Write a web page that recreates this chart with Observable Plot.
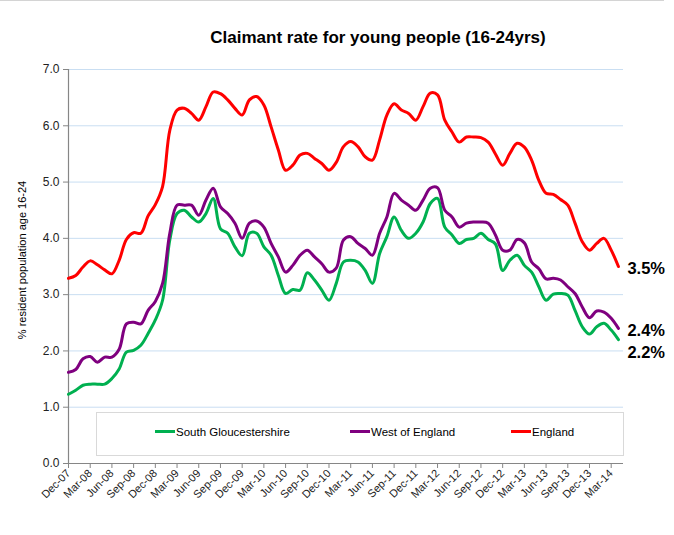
<!DOCTYPE html>
<html>
<head>
<meta charset="utf-8">
<script src="https://cdn.jsdelivr.net/npm/d3@7"></script>
<script src="https://cdn.jsdelivr.net/npm/@observablehq/plot@0.6"></script>
<style>
  html, body { margin: 0; padding: 0; background: #fff; }
  #wrap { position: relative; width: 674px; height: 535px; font-family: "Liberation Sans", Arial, sans-serif; overflow: hidden; }
  #frame { position: absolute; left: 0; top: 0; width: 664px; height: 1px; background: #d4d4d4; pointer-events: none; }
  #title { position: absolute; left: 0; width: 756px; top: 28px; text-align: center; font-weight: bold; font-size: 17px; color: #000; }
  #ylab { position: absolute; left: 22px; top: 260px; transform: translate(-50%, -50%) rotate(-90deg); white-space: nowrap; font-size: 11px; color: #000; }
  #legend { position: absolute; left: 96px; top: 412px; width: 528px; height: 44px; border: 1px solid #d9d9d9; background: #fff; box-sizing: border-box; }
  .li { position: absolute; top: 13px; font-size: 11.5px; color: #000; white-space: nowrap; }
  .sw { display: inline-block; width: 20px; height: 3px; vertical-align: middle; margin-right: 1px; position: relative; top: -1px; }
  svg { position: absolute; left: 0; top: 0; overflow: visible; }
</style>
</head>
<body>
<div id="wrap">
  <div id="chart"></div>
  <div id="title">Claimant rate for young people (16-24yrs)</div>
  <div id="ylab">% resident population age 16-24</div>
  <div id="legend"></div>
  <div id="frame"></div>
</div>
<script>
// Month index 0 = Dec-07 ... 76 = Apr-14
const tickLabels = ["Dec-07","Mar-08","Jun-08","Sep-08","Dec-08","Mar-09","Jun-09","Sep-09","Dec-09","Mar-10","Jun-10","Sep-10","Dec-10","Mar-11","Jun-11","Sep-11","Dec-11","Mar-12","Jun-12","Sep-12","Dec-12","Mar-13","Jun-13","Sep-13","Dec-13","Mar-14"];

const seriesNames = ["South Gloucestershire", "West of England", "England"];
const seriesColors = ["#00b050", "#7f007f", "#ff0000"];
const endLabels = ["2.2%", "2.4%", "3.5%"];

const southGlos = [1.23,1.30,1.39,1.41,1.41,1.41,1.51,1.68,1.98,2.01,2.10,2.31,2.55,2.90,3.97,4.44,4.50,4.38,4.29,4.44,4.71,4.17,4.09,3.85,3.69,4.09,4.09,3.85,3.70,3.34,3.02,3.09,3.08,3.39,3.26,3.08,2.90,3.20,3.58,3.61,3.58,3.43,3.20,3.73,4.03,4.38,4.14,4.00,4.09,4.29,4.62,4.71,4.20,4.06,3.91,3.98,4.00,4.09,3.98,3.90,3.43,3.61,3.70,3.52,3.40,3.14,2.90,3.01,3.02,2.99,2.72,2.43,2.30,2.43,2.49,2.37,2.20];

const westEngland = [1.62,1.67,1.86,1.90,1.80,1.89,1.89,2.03,2.48,2.51,2.48,2.72,2.88,3.20,4.09,4.59,4.59,4.59,4.41,4.68,4.89,4.56,4.44,4.27,4.00,4.27,4.31,4.20,3.91,3.67,3.40,3.52,3.70,3.79,3.67,3.55,3.40,3.47,3.97,4.03,3.91,3.82,3.70,4.09,4.38,4.80,4.68,4.59,4.50,4.68,4.89,4.90,4.50,4.38,4.20,4.27,4.29,4.29,4.27,4.06,3.79,3.79,3.98,3.92,3.58,3.46,3.28,3.29,3.26,3.14,3.02,2.78,2.59,2.71,2.69,2.58,2.40];

const england = [3.29,3.34,3.49,3.60,3.53,3.44,3.37,3.61,3.98,4.10,4.09,4.40,4.60,4.92,5.92,6.28,6.31,6.22,6.10,6.34,6.60,6.57,6.46,6.31,6.19,6.46,6.52,6.37,5.98,5.57,5.21,5.30,5.48,5.51,5.42,5.33,5.21,5.35,5.63,5.72,5.63,5.45,5.39,5.75,6.19,6.39,6.28,6.22,6.10,6.34,6.58,6.55,6.10,5.89,5.71,5.80,5.80,5.79,5.71,5.50,5.30,5.51,5.69,5.62,5.39,5.03,4.80,4.78,4.69,4.59,4.27,3.94,3.79,3.91,4.00,3.79,3.50];

const yTicks = [0,1,2,3,4,5,6,7];

const allSeries = [southGlos, westEngland, england];
const rows = [];
allSeries.forEach((vals, s) => vals.forEach((v, i) => rows.push({i, v, s: seriesNames[s]})));
const lastRows = allSeries.map((vals, s) => ({i: vals.length - 1, v: vals[vals.length - 1], s: seriesNames[s], label: endLabels[s]}));
const xTicks = tickLabels.map((_, k) => k * 3);

const plot = Plot.plot({
  width: 674,
  height: 535,
  marginLeft: 68,
  marginRight: 51,
  marginTop: 69,
  marginBottom: 72,
  style: {fontFamily: "Liberation Sans, Arial, sans-serif", background: "transparent", overflow: "visible"},
  x: {type: "linear", domain: [0, 76.7]},
  y: {domain: [0, 7]},
  color: {domain: seriesNames, range: seriesColors},
  marks: [
    Plot.gridY(yTicks.filter(d => d > 0), {stroke: "#c9def2", strokeOpacity: 1, strokeWidth: 1}),
    Plot.axisY(yTicks, {tickFormat: d => d.toFixed(1), tickSize: 5, tickPadding: 4, fontSize: 12, stroke: "#868686", fill: "#222", label: null}),
    Plot.axisX(xTicks, {tickFormat: i => tickLabels[i / 3], tickRotate: -45, tickSize: 5, tickPadding: 3, fontSize: 11, stroke: "#868686", fill: "#222", label: null}),
    Plot.ruleX([0], {stroke: "#868686", strokeWidth: 1.2}),
    Plot.ruleY([0], {stroke: "#868686", strokeWidth: 1.2}),
    Plot.line(rows, {x: "i", y: "v", z: "s", stroke: "s", strokeWidth: 3, curve: "catmull-rom"}),
    Plot.text(lastRows, {x: "i", y: "v", text: "label", textAnchor: "start", dx: 9, fontSize: 16.5, fontWeight: "bold", fill: "#000"})
  ]
});
document.getElementById("chart").appendChild(plot);

// Nudge the end labels as in the original (South Gloucestershire label sits below its line end)
const texts = plot.querySelectorAll("text");
texts.forEach(t => { if (t.textContent === endLabels[0]) t.setAttribute("dy", "13"); else if (endLabels.includes(t.textContent)) t.setAttribute("dy", "2"); });

// Legend
const legend = document.getElementById("legend");
const legendX = [58, 253, 414];
seriesNames.forEach((n, k) => {
  const d = document.createElement("div");
  d.className = "li";
  d.style.left = legendX[k] + "px";
  d.innerHTML = `<span class="sw" style="background:${seriesColors[k]}"></span>${n}`;
  legend.appendChild(d);
});
</script>
</body>
</html>
